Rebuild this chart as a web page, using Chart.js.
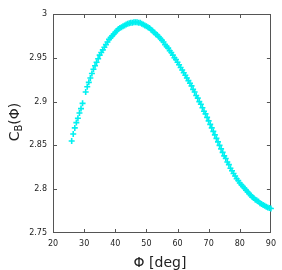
<!DOCTYPE html>
<html>
<head>
<meta charset="utf-8">
<script src="https://cdn.jsdelivr.net/npm/chart.js@4/dist/chart.umd.min.js"></script>
<style>
html, body { margin: 0; padding: 0; background: #fff; }
canvas { display: block; }
</style>
</head>
<body>
<canvas id="myChart" width="282" height="270"></canvas>
<script>
// angle in degrees (no point at 30 in the picture)
var phi = [26, 26.5, 27, 27.5, 28, 28.5, 29, 29.5,
  30.5, 31, 31.5, 32, 32.5, 33, 33.5, 34, 34.5, 35, 35.5, 36, 36.5, 37, 37.5, 38, 38.5, 39, 39.5,
  40, 40.5, 41, 41.5, 42, 42.5, 43, 43.5, 44, 44.5, 45, 45.5, 46, 46.5, 47, 47.5, 48, 48.5, 49, 49.5,
  50, 50.5, 51, 51.5, 52, 52.5, 53, 53.5, 54, 54.5, 55, 55.5, 56, 56.5, 57, 57.5, 58, 58.5, 59, 59.5,
  60, 60.5, 61, 61.5, 62, 62.5, 63, 63.5, 64, 64.5, 65, 65.5, 66, 66.5, 67, 67.5, 68, 68.5, 69, 69.5,
  70, 70.5, 71, 71.5, 72, 72.5, 73, 73.5, 74, 74.5, 75, 75.5, 76, 76.5, 77, 77.5, 78, 78.5, 79, 79.5,
  80, 80.5, 81, 81.5, 82, 82.5, 83, 83.5, 84, 84.5, 85, 85.5, 86, 86.5, 87, 87.5, 88, 88.5, 89, 89.5, 90];
// C_B(phi)
var cb = [2.855, 2.863, 2.870, 2.876, 2.881, 2.887, 2.892, 2.898,
  2.911, 2.917, 2.922, 2.927, 2.932, 2.937, 2.941, 2.945, 2.949, 2.953, 2.956, 2.959, 2.962, 2.965, 2.968, 2.971, 2.973, 2.975, 2.977,
  2.979, 2.981, 2.983, 2.984, 2.985, 2.986, 2.987, 2.988, 2.989, 2.9895, 2.990, 2.990, 2.9905, 2.9905, 2.9905, 2.990, 2.990, 2.989, 2.988, 2.987,
  2.986, 2.985, 2.984, 2.982, 2.981, 2.979, 2.977, 2.976, 2.974, 2.972, 2.970, 2.968, 2.965, 2.963, 2.961, 2.958, 2.956, 2.953, 2.950, 2.948,
  2.945, 2.942, 2.939, 2.936, 2.933, 2.930, 2.927, 2.924, 2.921, 2.918, 2.914, 2.911, 2.907, 2.904, 2.900, 2.897, 2.893, 2.889, 2.886, 2.882,
  2.878, 2.874, 2.870, 2.866, 2.862, 2.858, 2.854, 2.850, 2.846, 2.842, 2.838, 2.835, 2.831, 2.828, 2.824, 2.821, 2.818, 2.815, 2.812, 2.810,
  2.807, 2.805, 2.803, 2.801, 2.799, 2.797, 2.795, 2.793, 2.791, 2.790, 2.788, 2.787, 2.786, 2.784, 2.783, 2.782, 2.781, 2.780, 2.779, 2.7785, 2.778];

var xTicks = [20, 30, 40, 50, 60, 70, 80, 90];
var yTicks = [2.75, 2.8, 2.85, 2.9, 2.95, 3];

var axisColor = '#555';
var textColor = '#222';

var points = [];
for (var i = 0; i < phi.length; i++) {
  points.push({ x: phi[i], y: cb[i] });
}

// frame on all four sides, inward ticks, axis titles
var framePlugin = {
  id: 'frame',
  beforeDatasetsDraw: function(chart) {
    var ctx = chart.ctx, a = chart.chartArea;
    var xs = chart.scales.x, ys = chart.scales.y;
    var len = 4;
    ctx.save();
    ctx.strokeStyle = axisColor;
    ctx.lineWidth = 1;
    ctx.strokeRect(Math.round(a.left) + 0.5, Math.round(a.top) + 0.5,
      Math.round(a.right - a.left) - 1, Math.round(a.bottom - a.top) - 1);
    ctx.beginPath();
    for (var i = 1; i < xTicks.length - 1; i++) {
      var px = Math.round(xs.getPixelForValue(xTicks[i])) + 0.5;
      ctx.moveTo(px, a.bottom);
      ctx.lineTo(px, a.bottom - len);
      ctx.moveTo(px, a.top);
      ctx.lineTo(px, a.top + len);
    }
    for (var j = 1; j < yTicks.length - 1; j++) {
      var py = Math.round(ys.getPixelForValue(yTicks[j])) + 0.5;
      ctx.moveTo(a.left, py);
      ctx.lineTo(a.left + len, py);
      ctx.moveTo(a.right, py);
      ctx.lineTo(a.right - len, py);
    }
    ctx.stroke();
    ctx.restore();
  },
  afterDraw: function(chart) {
    var ctx = chart.ctx;
    ctx.save();
    ctx.fillStyle = textColor;
    // x title
    ctx.font = '14px "DejaVu Sans", sans-serif';
    ctx.textAlign = 'center';
    ctx.textBaseline = 'middle';
    ctx.fillText('\u03A6 [deg]', 160, 263);
    // y title with subscript B
    ctx.translate(15, 122);
    ctx.rotate(-Math.PI / 2);
    ctx.textAlign = 'left';
    ctx.textBaseline = 'middle';
    var big = '14px "DejaVu Sans", sans-serif';
    var small = '10px "DejaVu Sans", sans-serif';
    ctx.font = big;
    var wC = ctx.measureText('C').width;
    var wP = ctx.measureText('(\u03A6)').width;
    ctx.font = small;
    var wB = ctx.measureText('B').width;
    var x0 = -(wC + wB + wP) / 2;
    ctx.font = big;
    ctx.fillText('C', x0, 0);
    ctx.font = small;
    ctx.fillText('B', x0 + wC, 4);
    ctx.font = big;
    ctx.fillText('(\u03A6)', x0 + wC + wB, 0);
    ctx.restore();
  }
};

var data = {
  datasets: [{
    data: points,
    showLine: false,
    pointStyle: 'cross',
    pointRadius: 3,
    pointBorderWidth: 1.6,
    borderColor: 'rgb(0, 240, 240)',
    backgroundColor: 'rgb(0, 240, 240)',
    clip: false
  }]
};

var tickFont = { family: '"DejaVu Sans", sans-serif', size: 8 };

var config = {
  type: 'scatter',
  data: data,
  options: {
    responsive: false,
    animation: false,
    layout: { padding: { left: 0, right: 9, top: 14, bottom: 0 } },
    plugins: { legend: { display: false }, tooltip: { enabled: false } },
    scales: {
      x: {
        type: 'linear',
        min: 20,
        max: 90,
        grid: { display: false, drawTicks: false },
        border: { display: false },
        afterBuildTicks: function(scale) {
          scale.ticks = xTicks.map(function(v) { return { value: v }; });
        },
        afterFit: function(scale) { scale.height = 37; },
        ticks: {
          color: textColor,
          font: tickFont,
          padding: 6,
          maxRotation: 0,
          callback: function(v) { return String(v); }
        }
      },
      y: {
        type: 'linear',
        min: 2.75,
        max: 3,
        grid: { display: false, drawTicks: false },
        border: { display: false },
        afterBuildTicks: function(scale) {
          scale.ticks = yTicks.map(function(v) { return { value: v }; });
        },
        afterFit: function(scale) { scale.width = 53; },
        ticks: {
          color: textColor,
          font: tickFont,
          padding: 6,
          callback: function(v) { return String(+v.toFixed(2)); }
        }
      }
    }
  },
  plugins: [framePlugin]
};

var myChart = new Chart(document.getElementById('myChart'), config);
</script>
</body>
</html>
